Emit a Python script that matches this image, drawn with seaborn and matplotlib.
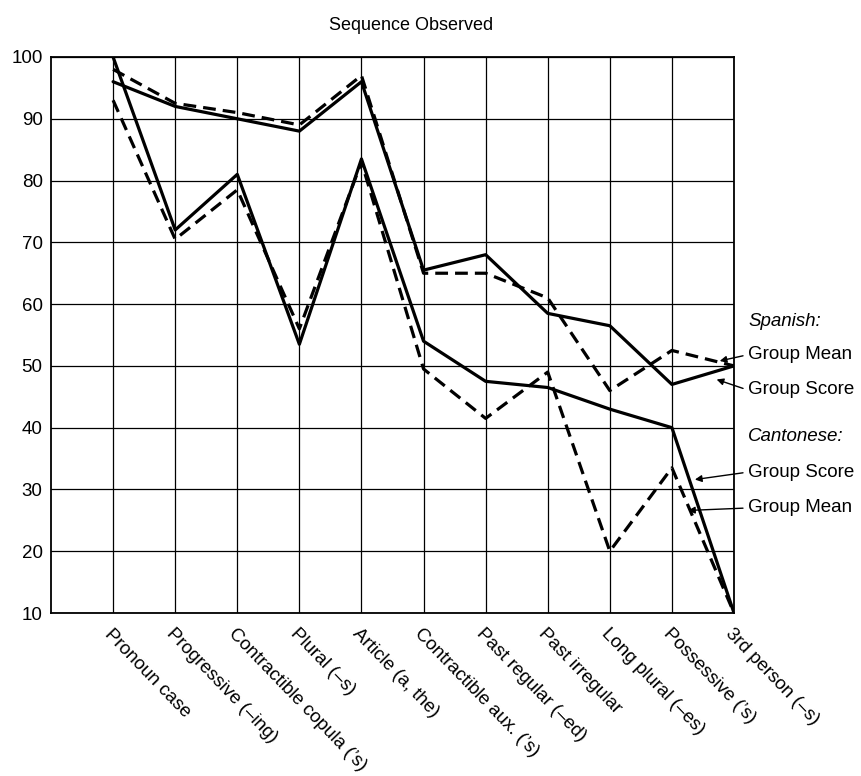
import matplotlib
matplotlib.use("Agg")
import matplotlib.pyplot as plt
import seaborn as sns
import pandas as pd

categories = ["Pronoun case", "Progressive (–ing)", "Contractible copula (’s)", "Plural (–s)",
              "Article (a, the)", "Contractible aux. (’s)", "Past regular (–ed)", "Past irregular",
              "Long plural (–es)", "Possessive (’s)", "3rd person (–s)"]
spanish_score = [96, 92, 90, 88, 96, 65.5, 68, 58.5, 56.5, 47, 50]
spanish_mean = [98, 92.5, 91, 89, 97, 65, 65, 61, 46, 52.5, 50]
cantonese_score = [100, 72, 81, 53.5, 83.5, 54, 47.5, 46.5, 43, 40, 10]
cantonese_mean = [93, 70.5, 78.5, 56, 83, 49.5, 41.5, 49, 20, 33.5, 10]
y_ticks = [10, 20, 30, 40, 50, 60, 70, 80, 90, 100]

sns.set_style("white")
plt.rcParams['font.family'] = ['Liberation Sans', 'DejaVu Sans']
plt.rcParams['text.color'] = 'black'
plt.rcParams['xtick.color'] = 'black'
plt.rcParams['ytick.color'] = 'black'

FS = 13.5

fig = plt.figure(figsize=(8.61, 7.76), dpi=100)
ax = fig.add_axes([51/861, 1-613/776, (734-51)/861, (613-57)/776])

pos = list(range(len(categories)))
rows = []
for name, vals in [("Spanish Score", spanish_score), ("Spanish Mean", spanish_mean),
                   ("Cantonese Score", cantonese_score), ("Cantonese Mean", cantonese_mean)]:
    for p, v in zip(pos, vals):
        rows.append({"pos": p, "value": v, "series": name,
                     "measure": "Score" if "Score" in name else "Mean"})
df = pd.DataFrame(rows)

sns.lineplot(data=df, x="pos", y="value", units="series", estimator=None,
             style="measure", dashes={"Score": "", "Mean": (4.0, 2.2)},
             color="black", linewidth=2.3, legend=False, ax=ax)

ax.set_xlim(-1, 10)
ax.set_ylim(10, 100)
ax.set_xticks(pos)
ax.set_xticklabels(categories, rotation=-46, ha="left", va="top", rotation_mode="anchor",
                   fontsize=FS)
ax.set_yticks(y_ticks)
ax.set_yticklabels([str(t) for t in y_ticks], fontsize=FS)
ax.tick_params(axis="x", length=0, pad=9)
ax.tick_params(axis="y", length=0, pad=6)
ax.set_xlabel("")
ax.set_ylabel("")
ax.grid(True, color="black", linewidth=0.9)
ax.set_axisbelow(True)
for s in ax.spines.values():
    s.set_color("black")
    s.set_linewidth(1.3)

fig.text(411/861, 1-25/776, "Sequence Observed", ha="center", va="center", fontsize=FS - 0.5)

ak = dict(arrowstyle="-|>", color="black", lw=1.0, mutation_scale=10, shrinkA=1, shrinkB=0,
          relpos=(0, 0.5))
tx = 10.22
ax.text(tx + 0.01, 57.2, "Spanish:", style="italic", fontsize=FS, ha="left", va="center")
ax.annotate("Group Mean", xy=(9.77, 50.8), xytext=(tx, 51.8), ha="left", va="center",
            fontsize=FS, arrowprops=ak, annotation_clip=False)
ax.annotate("Group Score", xy=(9.72, 47.8), xytext=(tx, 46.1), ha="left", va="center",
            fontsize=FS, arrowprops=ak, annotation_clip=False)
ax.text(tx + 0.01, 38.5, "Cantonese:", style="italic", fontsize=FS, ha="left", va="center")
ax.annotate("Group Score", xy=(9.37, 31.6), xytext=(tx, 32.8), ha="left", va="center",
            fontsize=FS, arrowprops=ak, annotation_clip=False)
ax.annotate("Group Mean", xy=(9.26, 26.6), xytext=(tx, 27.0), ha="left", va="center",
            fontsize=FS, arrowprops=ak, annotation_clip=False)

fig.savefig("out.png", dpi=100)
